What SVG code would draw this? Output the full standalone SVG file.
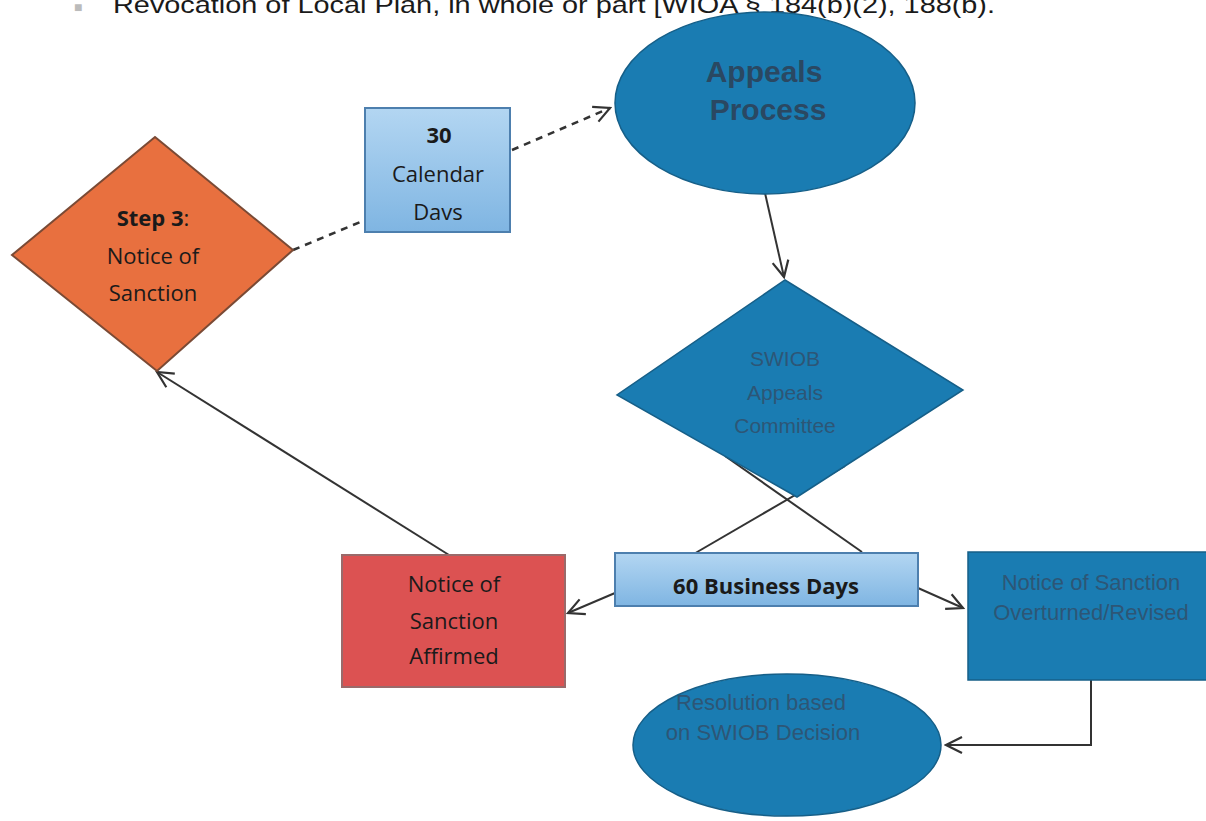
<svg xmlns="http://www.w3.org/2000/svg" width="1206" height="821" viewBox="0 0 1206 821">
<defs>
<style>
.lbl{font-family:"Open Sans","Liberation Sans",sans-serif;font-size:22px;fill:#1a1a1a;text-anchor:middle}
.dim{font-family:"Liberation Sans",Arial,sans-serif;font-size:21px;fill:#2d5676;text-anchor:middle}
.big{font-size:30px;font-weight:bold;fill:#2a4862}
.mid{font-size:22px}
.blue{fill:#1a7cb2;stroke:#165f88;stroke-width:1.5}
.con{fill:none;stroke:#333;stroke-width:2}
.dash{fill:none;stroke:#333;stroke-width:2.5;stroke-dasharray:7 6}
</style>
<linearGradient id="lb" x1="0" y1="0" x2="0" y2="1">
<stop offset="0" stop-color="#b3d6f2"/>
<stop offset="1" stop-color="#7fb5e2"/>
</linearGradient>
<marker id="ar" viewBox="0 0 20 20" refX="18" refY="10" markerWidth="20" markerHeight="20" markerUnits="userSpaceOnUse" orient="auto">
<path d="M2,2 L18,10 L2,18" fill="none" stroke="#333" stroke-width="2.2"/>
</marker>
</defs>
<rect width="1206" height="821" fill="#ffffff"/>
<text x="74" y="12" font-family="Liberation Sans,Arial,sans-serif" font-size="14" fill="#bbb">■</text>
<text x="113" y="13" font-family="Liberation Sans,Arial,sans-serif" font-size="24" fill="#1a1a1a" textLength="882" lengthAdjust="spacingAndGlyphs">Revocation of Local Plan, in whole or part [WIOA § 184(b)(2), 188(b).</text>
<g id="connectors">
<path class="dash" d="M293,250 L365,220"/>
<path class="dash" d="M512,150 L610,108" marker-end="url(#ar)"/>
<path class="con" d="M765,193 L784,277" marker-end="url(#ar)"/>
<path class="con" d="M692,555 L845,466"/>
<path class="con" d="M862,552 L725,456"/>
<path class="con" d="M615,593 L568,613" marker-end="url(#ar)"/>
<path class="con" d="M918,588 L963,608" marker-end="url(#ar)"/>
<path class="con" d="M449,555 L157,372" marker-end="url(#ar)"/>
<path class="con" d="M1091,680 L1091,745 L946,745" marker-end="url(#ar)"/>
</g>
<g id="appeals">
<ellipse class="blue" cx="765" cy="103" rx="150" ry="91"/>
<text class="dim big" x="764" y="82">Appeals</text>
<text class="dim big" x="768" y="120">Process</text>
</g>
<g id="calendar">
<rect x="365" y="108" width="145" height="124" fill="url(#lb)" stroke="#4d7fae" stroke-width="2"/>
<text class="lbl" x="439" y="143" font-weight="bold">30</text>
<text class="lbl" x="438" y="182">Calendar</text>
<text class="lbl" x="438" y="220">Davs</text>
</g>
<g id="step3">
<polygon points="155,137 293,250 157,371 12,255" fill="#e8703f" stroke="#7a4a35" stroke-width="2"/>
<text class="lbl" x="153" y="226"><tspan font-weight="bold">Step 3</tspan>:</text>
<text class="lbl" x="153" y="264">Notice of</text>
<text class="lbl" x="153" y="301">Sanction</text>
</g>
<g id="swiob">
<polygon class="blue" points="785,280 963,390 797,497 617,395"/>
<text class="dim" x="785" y="366">SWIOB</text>
<text class="dim" x="785" y="400">Appeals</text>
<text class="dim" x="785" y="433">Committee</text>
</g>
<g id="business">
<rect x="615" y="553" width="303" height="53" fill="url(#lb)" stroke="#4d7fae" stroke-width="2"/>
<text class="lbl" x="766" y="594" font-weight="bold">60 Business Days</text>
</g>
<g id="affirmed">
<rect x="342" y="555" width="223" height="132" fill="#dc5252" stroke="#9a6a6a" stroke-width="2"/>
<text class="lbl" x="454" y="592">Notice of</text>
<text class="lbl" x="454" y="629">Sanction</text>
<text class="lbl" x="454" y="664">Affirmed</text>
</g>
<g id="overturned">
<rect class="blue" x="968" y="552" width="240" height="128"/>
<text class="dim mid" x="1091" y="590">Notice of Sanction</text>
<text class="dim mid" x="1091" y="620">Overturned/Revised</text>
</g>
<g id="resolution">
<ellipse class="blue" cx="787" cy="745" rx="154" ry="71"/>
<text class="dim mid" x="761" y="710">Resolution based</text>
<text class="dim mid" x="763" y="740">on SWIOB Decision</text>
</g>
</svg>
